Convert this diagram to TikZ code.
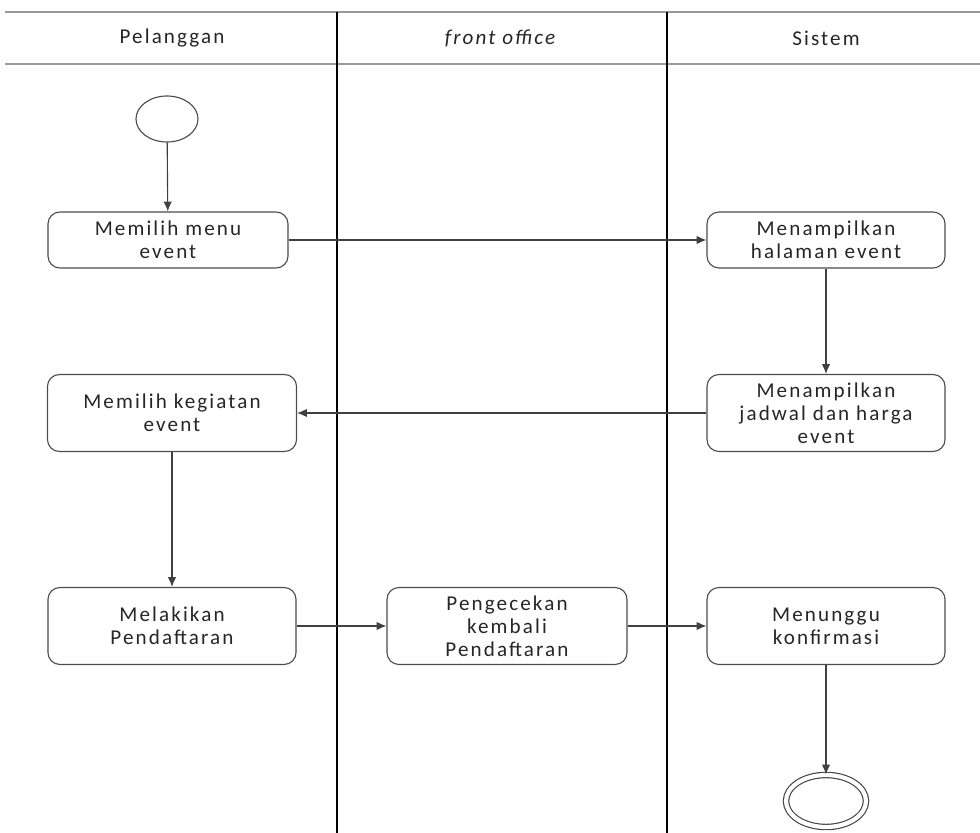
\documentclass[tikz,border=0pt]{standalone}
\usepackage{fontspec}
\newfontfamily\lanefont[LetterSpace=10]{Carlito}
\usetikzlibrary{shapes.geometric,arrows.meta}

\begin{document}
\begin{tikzpicture}[
        x=0.025cm, y=-0.025cm,
        every node/.style={font=\lanefont\fontsize{15}{16.5}\selectfont, text=black!85},
        action/.style={rectangle, rounded corners=0.3cm, draw=black!70, thick, align=center, minimum width=6cm, minimum height=1.4cm, inner sep=2pt},
        initnode/.style={ellipse, draw=black!70, thick, minimum width=1.55cm, minimum height=1.15cm},
        finalnode/.style={ellipse, draw=black!75, thick, double, double distance=3pt, minimum width=2cm, minimum height=1.3cm},
        flow/.style={draw=black!75, thick, -{Latex[length=7pt,width=6pt]}},
        lane/.style={draw=black, thick},
        header/.style={draw=black!40, line width=2pt}
    ]
    \useasboundingbox (0,0) rectangle (980,833);
    % swimlanes
    \draw[header] (5,12) -- (980,12);
    \draw[header] (5,64) -- (980,64);
    \draw[lane] (337,12) -- (337,833);
    \draw[lane] (667,12) -- (667,833);
    \node (lane1) at (172,38) {Pelanggan};
    \node (lane2) at (500,38) {\itshape front office};
    \node (lane3) at (826,38) {Sistem};
    % activities
    \node[initnode] (init) at (167,119) {};
    \node[action] (n1) at (168,240) {Memilih menu\\event};
    \node[action, minimum width=5.95cm] (n2) at (826,240) {Menampilkan\\halaman event};
    \node[action, minimum width=5.95cm, minimum height=1.925cm] (n3) at (826,413) {Menampilkan\\jadwal dan harga\\event};
    \node[action, minimum width=6.225cm, minimum height=1.925cm] (n4) at (172,413) {Memilih kegiatan\\event};
    \node[action, minimum width=6.2cm, minimum height=1.925cm] (n5) at (172,626) {Melakikan\\Pendaftaran};
    \node[action, minimum height=1.925cm] (n6) at (507,626) {Pengecekan\\kembali\\Pendaftaran};
    \node[action, minimum width=5.95cm, minimum height=1.925cm] (n7) at (826,626) {Menunggu\\konfirmasi};
    \node[finalnode] (final) at (826,801) {};
    % flows
    \draw[flow] (init) -- (n1);
    \draw[flow] (n1) -- (n2);
    \draw[flow] (n2) -- (n3);
    \draw[flow] (n3) -- (n4);
    \draw[flow] (n4) -- (n5);
    \draw[flow] (n5) -- (n6);
    \draw[flow] (n6) -- (n7);
    \draw[flow] (n7) -- (final);
\end{tikzpicture}
\end{document}
